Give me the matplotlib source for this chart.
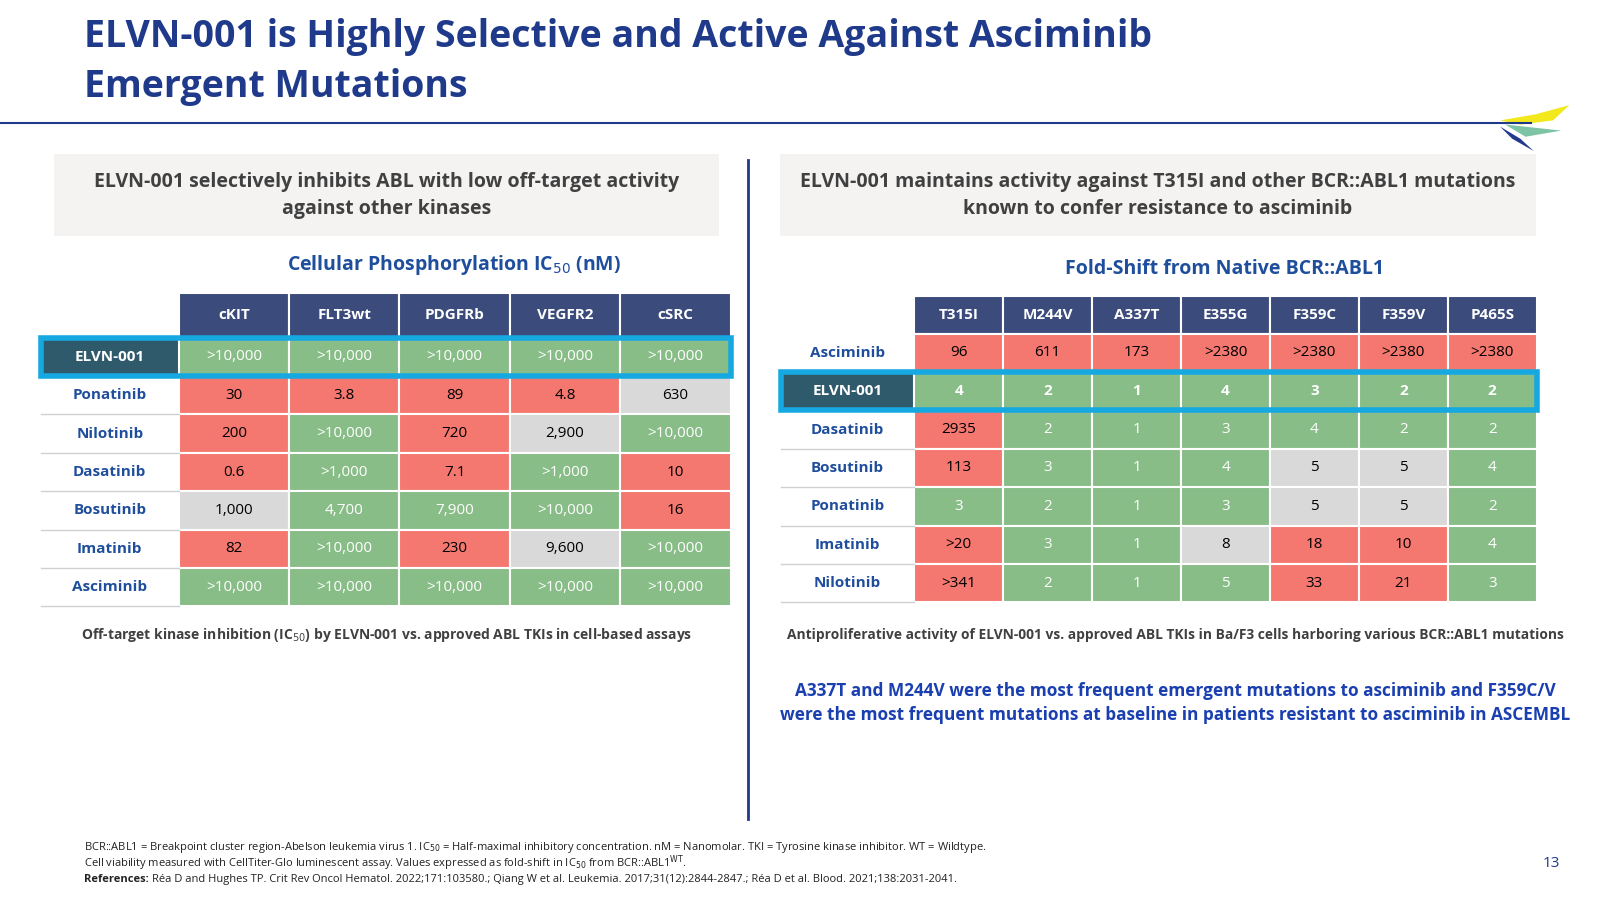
import matplotlib.pyplot as plt
from matplotlib.patches import Rectangle, Polygon

plt.rcParams['font.family'] = ['Open Sans', 'DejaVu Sans']

# left table data
left_cols = ['cKIT', 'FLT3wt', 'PDGFRb', 'VEGFR2', 'cSRC']
left_rows = ['ELVN-001', 'Ponatinib', 'Nilotinib', 'Dasatinib', 'Bosutinib', 'Imatinib', 'Asciminib']
left_vals = [
    ['>10,000', '>10,000', '>10,000', '>10,000', '>10,000'],
    ['30', '3.8', '89', '4.8', '630'],
    ['200', '>10,000', '720', '2,900', '>10,000'],
    ['0.6', '>1,000', '7.1', '>1,000', '10'],
    ['1,000', '4,700', '7,900', '>10,000', '16'],
    ['82', '>10,000', '230', '9,600', '>10,000'],
    ['>10,000', '>10,000', '>10,000', '>10,000', '>10,000'],
]
left_cls = ['GGGGG', 'RRRRY', 'RGRYG', 'RGRGR', 'YGGGR', 'RGRYG', 'GGGGG']

# right table data
right_cols = ['T315I', 'M244V', 'A337T', 'E355G', 'F359C', 'F359V', 'P465S']
right_rows = ['Asciminib', 'ELVN-001', 'Dasatinib', 'Bosutinib', 'Ponatinib', 'Imatinib', 'Nilotinib']
right_vals = [
    ['96', '611', '173', '>2380', '>2380', '>2380', '>2380'],
    ['4', '2', '1', '4', '3', '2', '2'],
    ['2935', '2', '1', '3', '4', '2', '2'],
    ['113', '3', '1', '4', '5', '5', '4'],
    ['3', '2', '1', '3', '5', '5', '2'],
    ['>20', '3', '1', '8', '18', '10', '4'],
    ['>341', '2', '1', '5', '33', '21', '3'],
]
right_cls = ['RRRRRRR', 'GGGGGGG', 'RGGGGGG', 'RGGGYYG', 'GGGGYYG', 'RGGYRRG', 'RGGGRRG']

RED, GRN, GRY = '#f4786f', '#88bd88', '#d9d9d9'
NAVY = '#1f3a8a'
HDR = '#3a4b7c'
LBL = '#1f4e9c'
CYAN = '#16a9e1'
cmap = {'R': RED, 'G': GRN, 'Y': GRY}

fig = plt.figure(figsize=(16, 9), dpi=100)
ax = fig.add_axes([0, 0, 1, 1])
ax.set_xlim(0, 1568)
ax.set_ylim(882, 0)
ax.axis('off')

ax.text(82, 36, 'ELVN-001 is Highly Selective and Active Against Asciminib', color=NAVY,
        fontsize=27, fontweight='bold', va='center')
ax.text(82, 85, 'Emergent Mutations', color=NAVY, fontsize=27, fontweight='bold', va='center')
ax.plot([0, 1500], [121, 121], color=NAVY, lw=1.5)
# logo
ax.add_patch(Polygon([[1470, 118], [1505, 112], [1538, 103], [1522, 118], [1490, 122]], color='#f2e81c', lw=0))
ax.add_patch(Polygon([[1475, 122], [1530, 128], [1495, 134]], color='#7cc4a4', lw=0))
ax.add_patch(Polygon([[1470, 124], [1490, 136], [1503, 148], [1482, 136]], color='#233a8e', lw=0))

ax.plot([733, 733], [157, 803], color=NAVY, lw=2)

# header boxes
for x0, x1, l1, l2 in [(53, 705, 'ELVN-001 selectively inhibits ABL with low off-target activity', 'against other kinases'),
                       (764, 1505, 'ELVN-001 maintains activity against T315I and other BCR::ABL1 mutations',
                        'known to confer resistance to asciminib')]:
    ax.add_patch(Rectangle((x0, 151), x1 - x0, 80, color='#f4f3f2', lw=0))
    ax.text((x0 + x1) / 2, 178, l1, ha='center', va='center', fontsize=14, fontweight='bold', color='#404040')
    ax.text((x0 + x1) / 2, 205, l2, ha='center', va='center', fontsize=14, fontweight='bold', color='#404040')

ax.text(445, 260, 'Cellular Phosphorylation IC$_{50}$ (nM)', ha='center', va='center', fontsize=14,
        fontweight='bold', color=LBL)
ax.text(1200, 264, 'Fold-Shift from Native BCR::ABL1', ha='center', va='center', fontsize=14,
        fontweight='bold', color=LBL)


def table(x0, xl, xr, yh, hh, rh, cols, rows, vals, cls, elvn, bold_sel):
    cw = (xr - xl) / len(cols)
    for j, c in enumerate(cols):
        ax.add_patch(Rectangle((xl + j * cw, yh), cw, hh, facecolor=HDR, edgecolor='white', lw=1.5))
        ax.text(xl + (j + 0.5) * cw, yh + hh / 2, c, ha='center', va='center', color='white',
                fontsize=11, fontweight='bold')
    y0 = yh + hh
    for i, r in enumerate(rows):
        y = y0 + i * rh
        isel = i == elvn
        if isel:
            ax.add_patch(Rectangle((x0, y), xl - x0, rh, facecolor='#2f5a6c', lw=0))
        ax.plot([x0, xl], [y + rh, y + rh], color='#d0d0d0', lw=1)
        ax.text((x0 + xl) / 2, y + rh / 2, r, ha='center', va='center', fontsize=11, fontweight='bold',
                color='white' if isel else LBL)
        for j, v in enumerate(vals[i]):
            k = cls[i][j]
            ax.add_patch(Rectangle((xl + j * cw, y), cw, rh, facecolor=cmap[k], edgecolor='white', lw=1.5))
            ax.text(xl + (j + 0.5) * cw, y + rh / 2, v, ha='center', va='center', fontsize=11,
                    color='white' if k == 'G' else 'black',
                    fontweight='bold' if (isel and bold_sel) else 'normal')
        if isel:
            ax.add_patch(Rectangle((x0, y), xr - x0, rh, fill=False, edgecolor=CYAN, lw=4, zorder=5))


table(40, 175, 716, 287, 44, 37.6, left_cols, left_rows, left_vals, left_cls, 0, False)
table(765, 896, 1506, 290, 37, 37.6, right_cols, right_rows, right_vals, right_cls, 1, True)

ax.text(379, 622, 'Off-target kinase inhibition (IC$_{50}$) by ELVN-001 vs. approved ABL TKIs in cell-based assays',
        ha='center', va='center', fontsize=10, fontweight='bold', color='#404040')
ax.text(1152, 622, 'Antiproliferative activity of ELVN-001 vs. approved ABL TKIs in Ba/F3 cells harboring various BCR::ABL1 mutations',
        ha='center', va='center', fontsize=9.9, fontweight='bold', color='#404040')
ax.text(1152, 677, 'A337T and M244V were the most frequent emergent mutations to asciminib and F359C/V',
        ha='center', va='center', fontsize=12.4, fontweight='bold', color='#1a3fb0')
ax.text(1152, 701, 'were the most frequent mutations at baseline in patients resistant to asciminib in ASCEMBL',
        ha='center', va='center', fontsize=12.4, fontweight='bold', color='#1a3fb0')

foot = ['BCR::ABL1 = Breakpoint cluster region-Abelson leukemia virus 1. IC$_{50}$ = Half-maximal inhibitory concentration. nM = Nanomolar. TKI = Tyrosine kinase inhibitor. WT = Wildtype.',
        'Cell viability measured with CellTiter-Glo luminescent assay. Values expressed as fold-shift in IC$_{50}$ from BCR::ABL1$^{\\mathrm{WT}}$.']
ax.text(82, 831, foot[0], va='center', fontsize=8, color='#222222')
ax.text(82, 846, foot[1], va='center', fontsize=8, color='#222222')
ax.text(82, 862, 'References:', va='center', fontsize=8, fontweight='bold', color='#222222')
ax.text(149, 862, 'Réa D and Hughes TP. Crit Rev Oncol Hematol. 2022;171:103580.; Qiang W et al. Leukemia. 2017;31(12):2844-2847.; Réa D et al. Blood. 2021;138:2031-2041.',
        va='center', fontsize=8, color='#222222')
ax.text(1520, 846, '13', ha='center', va='center', fontsize=11, color=NAVY)

fig.savefig('out.png', dpi=100)
